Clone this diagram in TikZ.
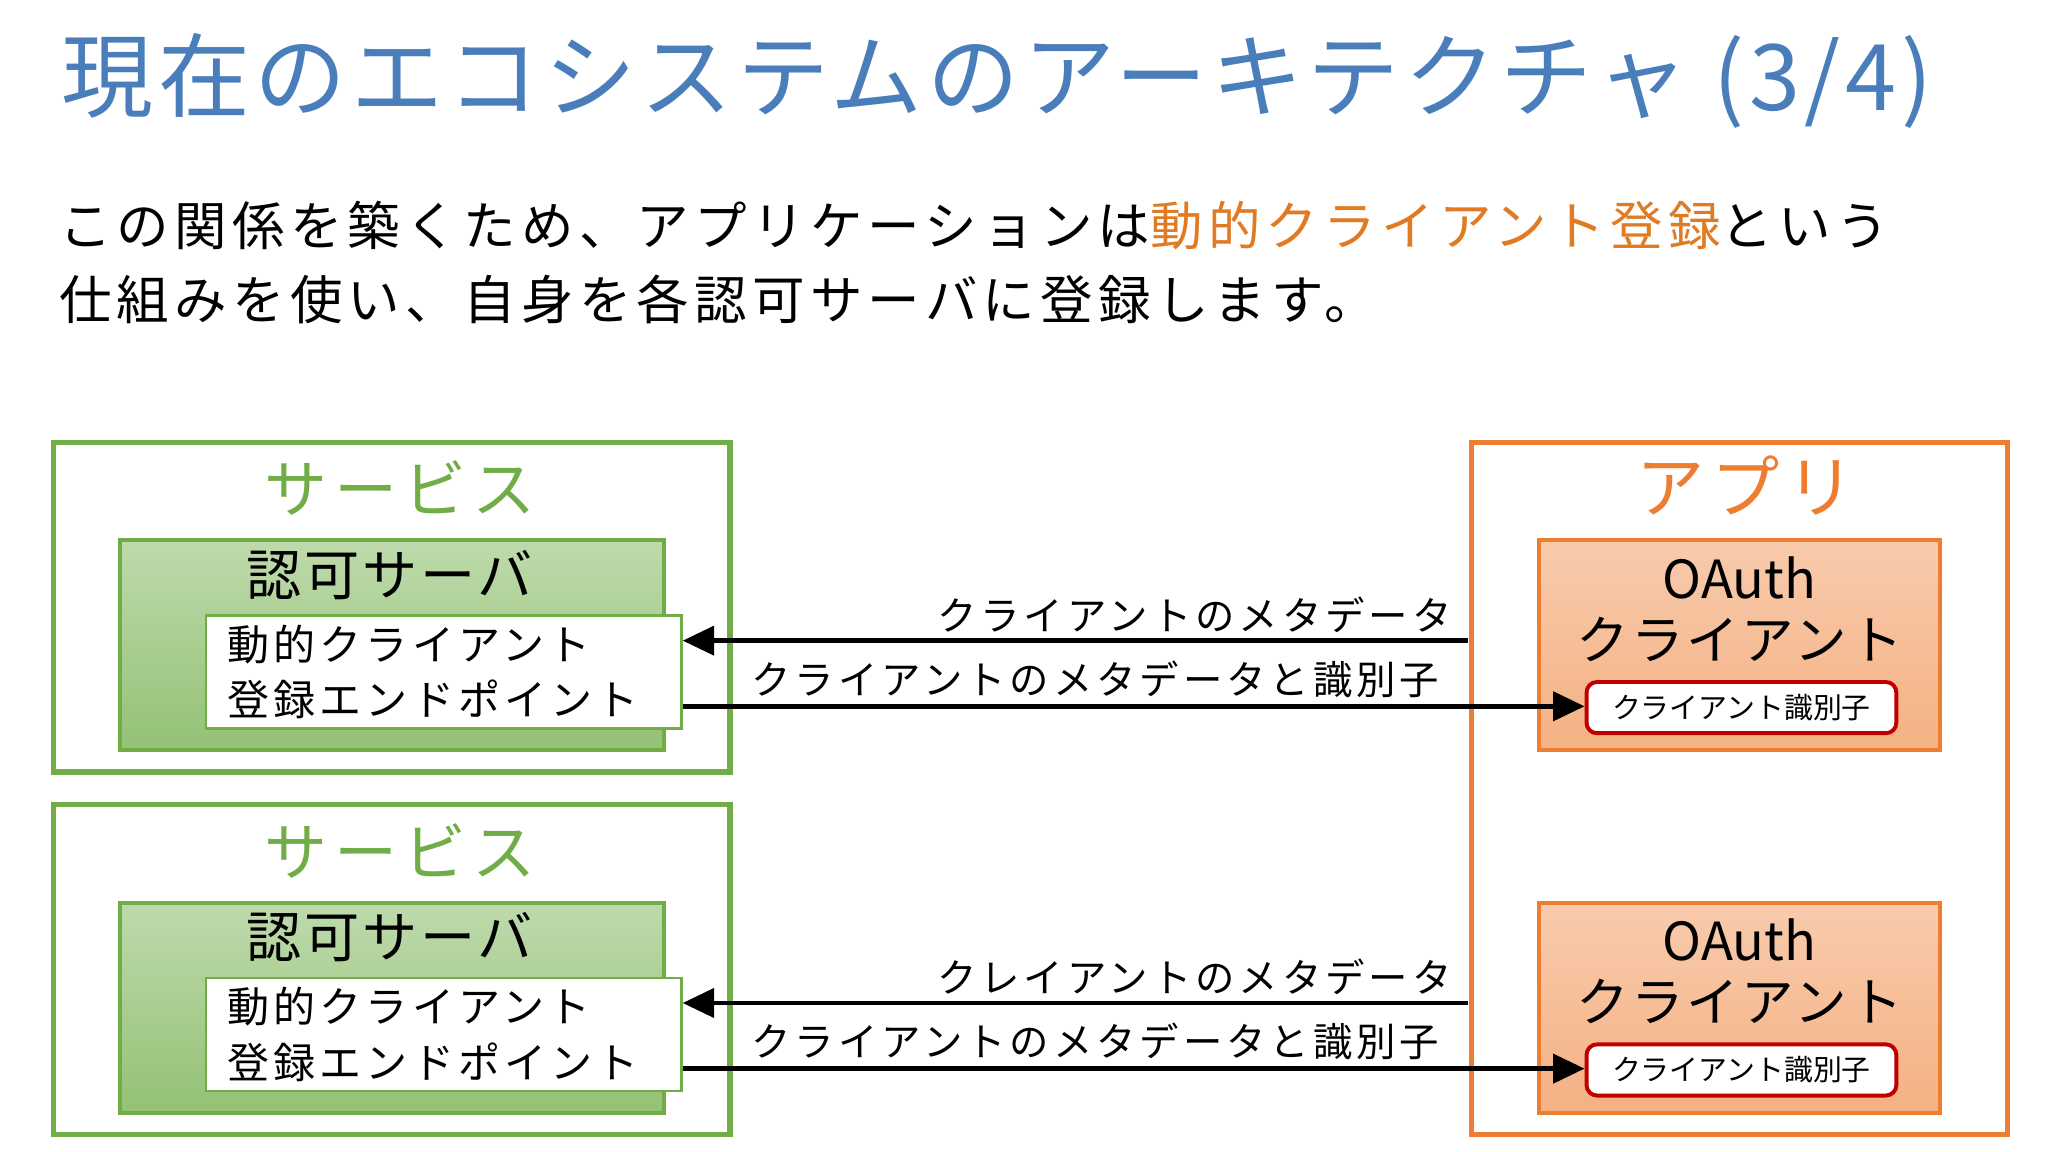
\documentclass[tikz,border=0pt]{standalone}
\usepackage{fontspec}
\setmainfont{Noto Sans CJK JP}
\newfontfamily\spaced[LetterSpace=10]{Noto Sans CJK JP}
\newfontfamily\spacedb[LetterSpace=5]{Noto Sans CJK JP}
\usetikzlibrary{arrows.meta}
\definecolor{gr}{HTML}{70AD47}
\definecolor{orr}{HTML}{ED7D31}
\definecolor{ttl}{HTML}{4A7EBB}
\definecolor{hl}{HTML}{E07B24}
\definecolor{rd}{HTML}{C00000}
\tikzset{
 outer/.style={draw,line width=2pt,inner sep=0pt},
 auth/.style={draw=gr,line width=1.5pt,top color=gr!45,bottom color=gr!75,inner sep=0pt},
 oa/.style={draw=orr,line width=1.5pt,top color=orr!40,bottom color=orr!60,inner sep=0pt},
 ep/.style={draw=gr,line width=1pt,fill=white,inner sep=0pt},
 idb/.style={draw=rd,line width=1.5pt,fill=white,rounded corners=4pt,inner sep=0pt,font=\fontsize{11}{13}\selectfont},
 arr/.style={line width=1.8pt,-{Triangle[length=12pt,width=11pt]}},
 lab/.style={font=\spaced\fontsize{15}{17}\selectfont,inner sep=1pt}
}
\begin{document}
\begin{tikzpicture}[x=0.5pt,y=-0.5pt]
\useasboundingbox (0,0) rectangle (1560,877.5);
\node[anchor=west,text=ttl,font=\spacedb\fontsize{35}{40}\selectfont] (title) at (40,62) {現在のエコシステムのアーキテクチャ (3/4)};
\node[anchor=west,font=\spaced\fontsize{20}{28}\selectfont,align=left] (body) at (38,200) {この関係を築くため、アプリケーションは\textcolor{hl}{動的クライアント登録}という\\仕組みを使い、自身を各認可サーバに登録します。};
\foreach \i/\d in {1/0,2/276}{
 \node[outer,draw=gr,minimum width=257.5pt,minimum height=125.5pt,anchor=north west] (svc\i) at (39,335+\d) {};
 \node[text=gr,font=\spaced\fontsize{24}{28}\selectfont] (svct\i) at (305,372+\d) {サービス};
 \node[auth,minimum width=207pt,minimum height=80pt,anchor=north west] (auth\i) at (90,410+\d) {};
 \node[font=\spacedb\fontsize{21}{24}\selectfont] (autht\i) at (297,438+\d) {認可サーバ};
 \node[ep,minimum width=181pt,minimum height=43pt,anchor=north west] (ep\i) at (156,468+\d) {};
 \node[anchor=west,align=left,font=\spaced\fontsize{16}{21}\selectfont] (ept\i) at (166,512+\d) {動的クライアント\\登録エンドポイント};
 \node[oa,minimum width=152.5pt,minimum height=80pt,anchor=north west] (oa\i) at (1171,410+\d) {};
 \node[font=\fontsize{20}{22}\selectfont] (oat\i) at (1325,440+\d) {OAuth};
 \node[font=\spacedb\fontsize{20}{22}\selectfont] (oac\i) at (1325,487+\d) {クライアント};
 \node[idb,minimum width=118pt,minimum height=19.5pt,anchor=north west] (id\i) at (1207,518+\d) {};
 \node[font=\fontsize{11}{13}\selectfont] (idt\i) at (id\i.center) {クライアント識別子};
}
\node[outer,draw=orr,minimum width=204pt,minimum height=263.5pt,anchor=north west] (app) at (1119,335) {};
\node[text=orr,font=\spaced\fontsize{26}{30}\selectfont] (appt) at (1330,370) {アプリ};
\foreach \i/\d/\t in {1/0/クライアント,2/276/クレイアント}{
 \coordinate (a\i) at (1118,488+\d);
 \coordinate (b\i) at (520,488+\d);
 \draw[arr] (a\i) -- (b\i);
 \node[lab,anchor=south east] (l\i) at (1108,484+\d) {\t のメタデータ};
 \coordinate (c\i) at (520,538+\d);
 \coordinate (d\i) at (id\i.west |- c\i);
 \draw[arr] (c\i) -- (d\i);
 \node[lab,anchor=south west] (m\i) at (570,534+\d) {クライアントのメタデータと識別子};
}
\end{tikzpicture}
\end{document}
